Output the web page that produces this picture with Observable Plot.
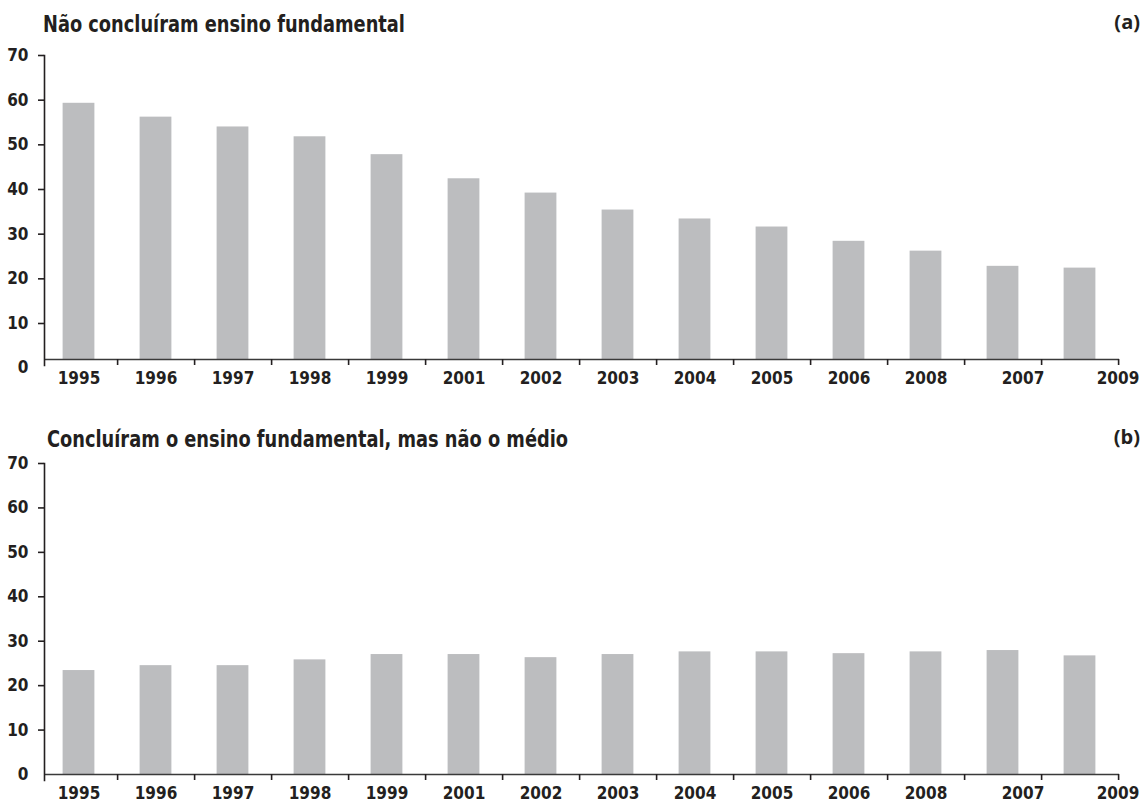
<!DOCTYPE html>
<html><head><meta charset="utf-8">
<script src="https://cdn.jsdelivr.net/npm/d3@7"></script>
<script src="https://cdn.jsdelivr.net/npm/@observablehq/plot@0.6"></script>
<style>
body{margin:0;background:#fff;width:1145px;height:803px;position:relative;overflow:hidden;font-family:"Liberation Sans Narrow","DejaVu Sans",sans-serif;font-stretch:condensed;color:#231f20}
.title{position:absolute;font-weight:bold;font-size:23px;line-height:24px;white-space:nowrap;font-stretch:condensed;transform:scaleX(0.86);transform-origin:0 50%}
.tag{position:absolute;right:5px;font-family:"Open Sans",sans-serif;font-stretch:normal;font-weight:bold;font-size:20px;line-height:24px}
.chart{position:absolute;left:0}
</style></head><body>
<div class="title" style="left:43px;top:12px">Não concluíram ensino fundamental</div>
<div class="tag" style="top:10px">(a)</div>
<div class="chart" id="a" style="top:40px"></div>
<div class="title" style="left:47px;top:427px">Concluíram o ensino fundamental, mas não o médio</div>
<div class="tag" style="top:425px">(b)</div>
<div class="chart" id="b" style="top:455px"></div>
<script>
const years = ["1995","1996","1997","1998","1999","2001","2002","2003","2004","2005","2006","2008","2007","2009"];
const semFundamental = [59.3,56.2,54.0,51.8,47.8,42.4,39.2,35.4,33.4,31.6,28.4,26.2,22.8,22.4];
const fundamentalSemMedio = [23.4,24.5,24.5,25.8,27.0,27.0,26.3,27.0,27.6,27.6,27.2,27.6,27.9,26.7];
const yTicks = [10,20,30,40,50,60,70];

const ink = "#231f20";
const barFill = "#bcbdbf";
const x0 = 38, x1 = 1119;
const step = (x1 - x0) / years.length;
const barW = 32;

function makeChart(values, height, marginTop, yScale, zeroDy) {
  const table = years.map((year, i) => ({year, value: values[i]}));
  const regular = years.filter(y => y !== "2007" && y !== "2009");
  const labelOpts = {anchor: "bottom", tickSize: 0, tickPadding: 6, fill: ink, label: null};
  return Plot.plot({
    width: 1145,
    height,
    marginLeft: 44,
    marginRight: 26,
    marginTop,
    marginBottom: height - 325,
    style: {fontFamily: '"Liberation Sans Narrow","DejaVu Sans",sans-serif', fontStretch: "condensed", fontSize: "17px", fontWeight: "bold", color: ink, background: "white", overflow: "visible"},
    x: {type: "band", domain: years, range: [x0, x1], padding: 0, label: null},
    y: {...yScale, label: null},
    marks: [
      Plot.barY(table, {x: "year", y: "value", fill: barFill, insetLeft: (step - barW) / 2, insetRight: (step - barW) / 2}),
      Plot.ruleY([0], {stroke: "#3a3a3a", strokeWidth: 1.6}),
      Plot.frame({anchor: "left", stroke: ink, strokeWidth: 1.6}),
      Plot.axisX({anchor: "bottom", tickSize: 6, dy: -6, dx: step / 2, tickFormat: () => "", stroke: ink, strokeWidth: 1.6, label: null}),
      Plot.axisX(regular, labelOpts),
      Plot.axisX(["2007"], {...labelOpts, dx: 20}),
      Plot.axisX(["2009"], {...labelOpts, dx: 38}),
      Plot.axisY(yTicks, {anchor: "left", tickSize: 6, tickPadding: 10, stroke: ink, strokeWidth: 1.6, fill: ink, label: null}),
      Plot.axisY([0], {anchor: "left", tickSize: 0, tickPadding: 16, dy: zeroDy, fill: ink, label: null})
    ]
  });
}

document.getElementById("a").append(
  makeChart(semFundamental, 355, 15, {type: "linear", domain: [0, 10, 70], range: [319, 283, 15]}, 8)
);
document.getElementById("b").append(
  makeChart(fundamentalSemMedio, 348, 8, {type: "linear", domain: [0, 70], range: [319, 8]}, 0)
);
</script>
</body></html>
